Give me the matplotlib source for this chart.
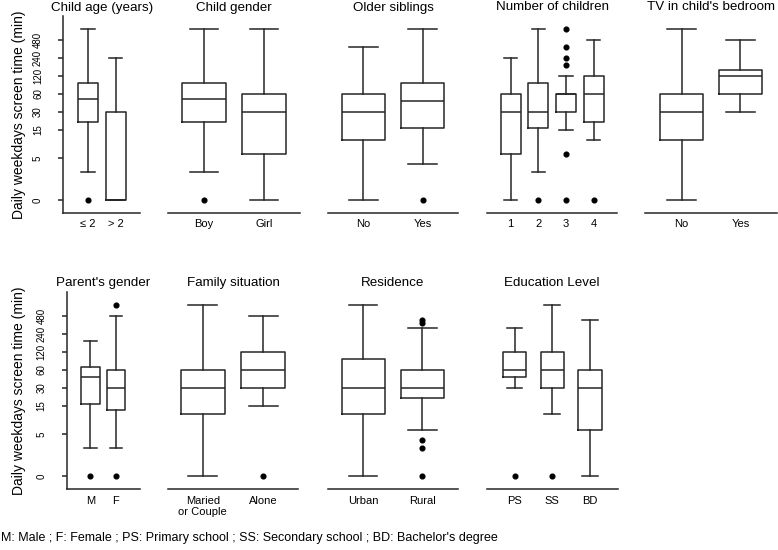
import numpy as np
import matplotlib
matplotlib.use("Agg")
import matplotlib.pyplot as plt

plt.rcParams['font.family'] = ['Liberation Sans', 'DejaVu Sans']

# screen time in minutes (0 is drawn where 1 min would be)
yticks = [0, 5, 15, 30, 60, 120, 240, 480]

age_cats = ['≤ 2', '> 2']
age_lo = [3, 0]
age_q1 = [20, 0]
age_med = [50, 0]
age_q3 = [90, 30]
age_hi = [720, 240]
age_out = [[0], []]

gender_cats = ['Boy', 'Girl']
gender_lo = [3, 0]
gender_q1 = [20, 6]
gender_med = [50, 30]
gender_q3 = [90, 60]
gender_hi = [720, 720]
gender_out = [[0], []]

sib_cats = ['No', 'Yes']
sib_lo = [0, 4]
sib_q1 = [10, 16]
sib_med = [30, 45]
sib_q3 = [60, 90]
sib_hi = [360, 720]
sib_out = [[], [0]]

nchild_cats = ['1', '2', '3', '4']
nchild_lo = [0, 3, 15, 10]
nchild_q1 = [6, 16, 30, 20]
nchild_med = [30, 30, 60, 60]
nchild_q3 = [60, 90, 60, 120]
nchild_hi = [240, 720, 120, 480]
nchild_out = [[], [0], [0, 6, 180, 240, 360, 720], [0]]

tv_cats = ['No', 'Yes']
tv_lo = [0, 30]
tv_q1 = [10, 60]
tv_med = [30, 120]
tv_q3 = [60, 150]
tv_hi = [720, 480]
tv_out = [[], []]

pgender_cats = ['M', 'F']
pgender_lo = [3, 3]
pgender_q1 = [16, 13]
pgender_med = [45, 30]
pgender_q3 = [67, 60]
pgender_hi = [180, 480]
pgender_out = [[0], [0, 720]]

family_cats = ['Maried\nor Couple', 'Alone']
family_lo = [0, 15]
family_q1 = [11, 30]
family_med = [30, 60]
family_q3 = [60, 120]
family_hi = [720, 480]
family_out = [[], [0]]

res_cats = ['Urban', 'Rural']
res_lo = [0, 6]
res_q1 = [11, 20]
res_med = [30, 30]
res_q3 = [90, 60]
res_hi = [720, 300]
res_out = [[], [0, 3, 4, 360, 400]]

edu_cats = ['PS', 'SS', 'BD']
edu_lo = [30, 11, 0]
edu_q1 = [45, 30, 6]
edu_med = [60, 60, 30]
edu_q3 = [120, 120, 60]
edu_hi = [300, 720, 400]
edu_out = [[0], [0], []]

W, H = 778, 550
fig = plt.figure(figsize=(W / 100, H / 100), dpi=100)
col = '#262626'


def to_plot(v):
    return np.maximum(np.asarray(v, dtype=float), 1.0)


def panel(rect, title, cats, lo, q1, med, q3, hi, out, xlim, bw=0.72, first=False):
    x0, x1, y0, y1 = rect
    ax = fig.add_axes([x0 / W, 1 - y1 / H, (x1 - x0) / W, (y1 - y0) / H])
    stats = []
    for i in range(len(cats)):
        stats.append(dict(whislo=to_plot(lo[i]), q1=to_plot(q1[i]), med=to_plot(med[i]),
                          q3=to_plot(q3[i]), whishi=to_plot(hi[i]), fliers=to_plot(out[i])))
    pos = np.arange(1, len(cats) + 1)
    lp = dict(color=col, linewidth=1.1)
    ax.bxp(stats, positions=pos, widths=bw, capwidths=bw * 2 / 3,
           boxprops=lp, whiskerprops=dict(lp, linestyle='-'), capprops=lp, medianprops=lp,
           flierprops=dict(marker='o', markersize=3.4, markerfacecolor='black',
                           markeredgecolor='black', linestyle='none'))
    ax.set_yscale('log')
    ax.set_ylim(0.605, 1210)
    ax.set_xlim(*xlim)
    ax.set_xticks(pos, cats, fontsize=8)
    ax.tick_params(axis='x', length=0, pad=4.5)
    ax.minorticks_off()
    for s in ['top', 'right']:
        ax.spines[s].set_visible(False)
    ax.spines['bottom'].set_color(col)
    ax.spines['bottom'].set_linewidth(1.1)
    if first:
        ax.set_yticks(to_plot(yticks), [str(t) for t in yticks], rotation=90, va='center', fontsize=7)
        ax.tick_params(axis='y', length=3.6, pad=11, color=col, width=1.1, which='major')
        ax.spines['left'].set_color(col)
        ax.spines['left'].set_linewidth(1.1)
        fig.text(19 / W, 1 - (y0 + y1) / 2 / H, 'Daily weekdays screen time (min)',
                 rotation=90, ha='center', va='center', fontsize=10)
    else:
        ax.spines['left'].set_visible(False)
        ax.set_yticks([])
    ax.text(0.5, 1 + 8.5 / (y1 - y0), title, transform=ax.transAxes,
            ha='center', va='center', fontsize=9.6)
    return ax


top = (16, 213)
bot = (291.7, 489.3)

panel((63.3, 140) + top, 'Child age (years)', age_cats, age_lo, age_q1, age_med, age_q3,
      age_hi, age_out, (0.11, 2.88), first=True)
panel((168, 300) + top, 'Child gender', gender_cats, gender_lo, gender_q1, gender_med,
      gender_q3, gender_hi, gender_out, (0.4, 2.6))
panel((328, 458) + top, 'Older siblings', sib_cats, sib_lo, sib_q1, sib_med, sib_q3,
      sib_hi, sib_out, (0.4, 2.6))
panel((487, 617) + top, 'Number of children', nchild_cats, nchild_lo, nchild_q1, nchild_med,
      nchild_q3, nchild_hi, nchild_out, (0.15, 4.84))
panel((645, 777) + top, "TV in child's bedroom", tv_cats, tv_lo, tv_q1, tv_med, tv_q3,
      tv_hi, tv_out, (0.38, 2.62))

panel((66.7, 140) + bot, "Parent's gender", pgender_cats, pgender_lo, pgender_q1, pgender_med,
      pgender_q3, pgender_hi, pgender_out, (0.07, 2.94), first=True)
panel((168, 298) + bot, 'Family situation', family_cats, family_lo, family_q1, family_med,
      family_q3, family_hi, family_out, (0.425, 2.575))
panel((327.7, 458) + bot, 'Residence', res_cats, res_lo, res_q1, res_med, res_q3,
      res_hi, res_out, (0.4, 2.6))
panel((486.7, 617.7) + bot, 'Education Level', edu_cats, edu_lo, edu_q1, edu_med, edu_q3,
      edu_hi, edu_out, (0.26, 3.74), bw=0.62)

fig.text(1 / W, 1 - 538 / H,
         "M: Male ; F: Female ; PS: Primary school ; SS: Secondary school ; BD: Bachelor's degree",
         ha='left', va='center', fontsize=9)

fig.savefig('out.png', dpi=100)
